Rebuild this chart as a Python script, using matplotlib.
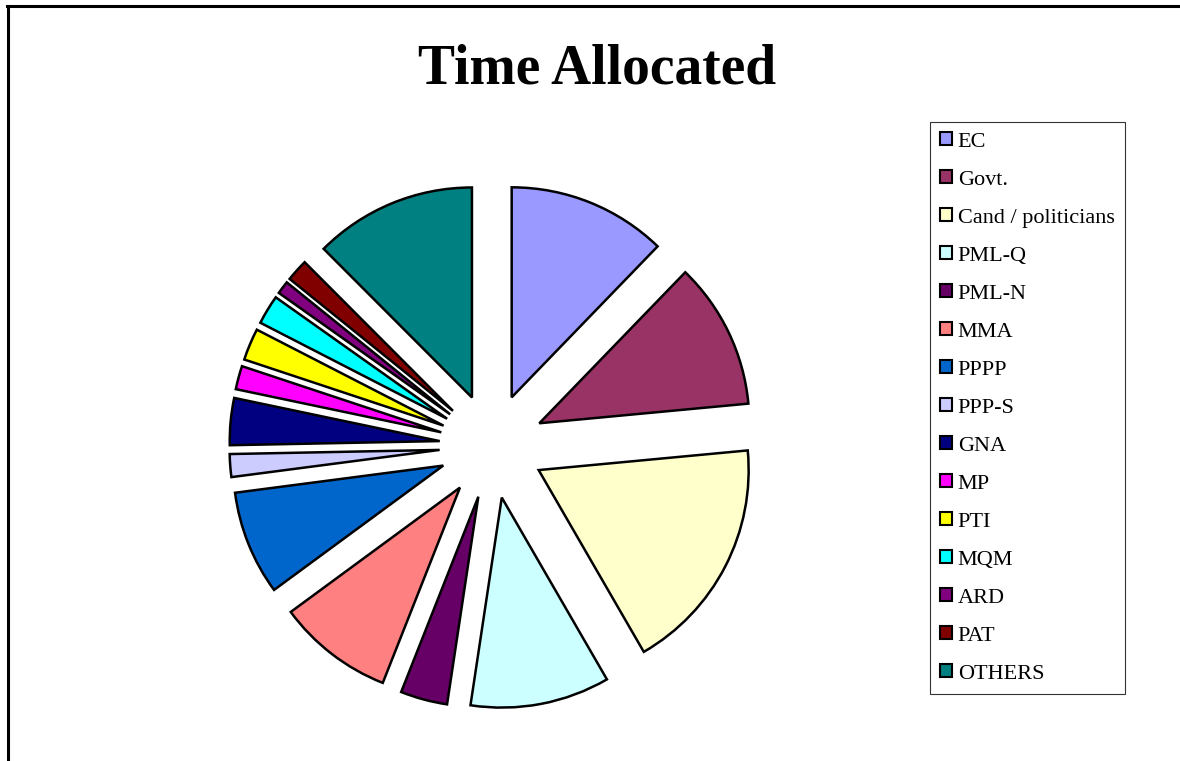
import matplotlib
matplotlib.use("Agg")
import matplotlib.pyplot as plt
from matplotlib.lines import Line2D

categories = ["EC", "Govt.", "Cand / politicians", "PML-Q", "PML-N", "MMA",
              "PPPP", "PPP-S", "GNA", "MP", "PTI", "MQM", "ARD", "PAT", "OTHERS"]
shares = [12.2, 11.25, 18.1, 10.7, 3.6, 8.9, 8.0, 1.75, 3.6, 1.8, 2.45, 2.25, 1.0, 1.7, 12.45]
colors = ["#9999FF", "#993366", "#FFFFCC", "#CCFFFF", "#660066", "#FF8080",
          "#0066CC", "#CCCCFF", "#000080", "#FF00FF", "#FFFF00", "#00FFFF",
          "#800080", "#800000", "#008080"]

W, H = 1180, 761
fig = plt.figure(figsize=(W / 100, H / 100), dpi=100)
fig.patch.set_facecolor("white")

# pie centred at (492, 446) px with a 210 px radius
cx, cy, r, half = 492, 446, 210, 300
ax = fig.add_axes([(cx - half) / W, (H - cy - half) / H, 2 * half / W, 2 * half / H])
wedges, _ = ax.pie(shares, colors=colors, startangle=90, counterclock=False,
                   explode=[0.25] * len(shares), radius=1.0,
                   wedgeprops=dict(edgecolor="black", linewidth=1.8))
ax.set_xlim(-half / r, half / r)
ax.set_ylim(-half / r, half / r)
ax.set_aspect("equal")
ax.axis("off")

fig.text(597 / W, 1 - 70 / H, "Time Allocated", ha="center", va="center",
         fontsize=40, fontweight="bold", family="Liberation Serif")

leg = fig.legend(wedges, categories, loc="upper left",
                 bbox_to_anchor=(930 / W, 1 - 122 / H),
                 prop=dict(family="Liberation Serif", size=16),
                 handlelength=0.55, handleheight=0.55, handletextpad=0.25,
                 labelspacing=0.83, borderpad=0.45, borderaxespad=0,
                 fancybox=False, shadow=False, frameon=True)
leg.get_frame().set_edgecolor("black")
leg.get_frame().set_linewidth(0.8)
for h in leg.legend_handles:
    h.set_linewidth(1.5)

# outer chart-area border (top and left edges)
fig.add_artist(Line2D([7 / W, 1.0], [1 - 6 / H, 1 - 6 / H], color="black", lw=2.2))
fig.add_artist(Line2D([8 / W, 8 / W], [0, 1 - 6 / H], color="black", lw=2.2))

fig.savefig("out.png", dpi=100, facecolor="white")
